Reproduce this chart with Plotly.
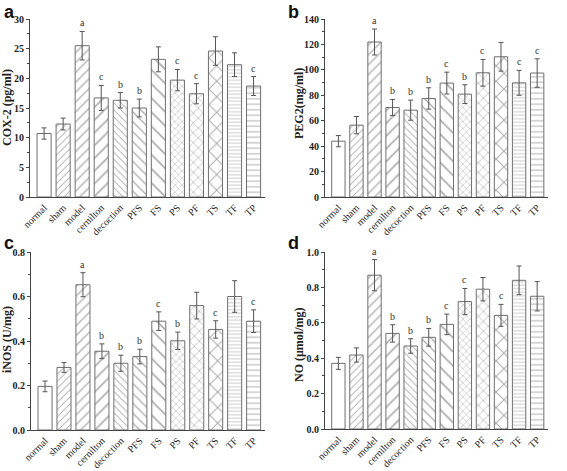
import plotly.graph_objects as go

categories = ["normal", "sham", "model", "cernilton", "decoction", "PFS", "FS", "PS", "PF", "TS", "TF", "TP"]

cox2 = [10.7, 12.3, 25.5, 16.7, 16.3, 15.0, 23.2, 19.7, 17.4, 24.6, 22.3, 18.7]
cox2_err = [0.95, 1.0, 2.4, 2.1, 1.3, 1.5, 2.1, 1.8, 1.7, 2.4, 2.0, 1.6]
cox2_sig = ["", "", "a", "c", "b", "b", "", "c", "c", "", "", "c"]

peg2 = [43.9, 56.5, 121.9, 70.4, 68.3, 77.5, 89.6, 80.9, 97.7, 110.3, 89.8, 97.5]
peg2_err = [4.4, 6.8, 10.2, 6.3, 7.9, 8.4, 8.6, 7.4, 10.5, 11.3, 9.8, 11.2]
peg2_sig = ["", "", "a", "b", "b", "b", "c", "b", "c", "", "c", "c"]

inos = [0.196, 0.281, 0.653, 0.354, 0.300, 0.330, 0.489, 0.401, 0.559, 0.452, 0.600, 0.489]
inos_err = [0.024, 0.022, 0.054, 0.033, 0.036, 0.033, 0.042, 0.039, 0.060, 0.039, 0.071, 0.051]
inos_sig = ["", "", "a", "b", "b", "b", "c", "b", "", "c", "", "c"]

no = [0.371, 0.418, 0.869, 0.540, 0.469, 0.518, 0.591, 0.720, 0.790, 0.642, 0.840, 0.750]
no_err = [0.034, 0.040, 0.088, 0.049, 0.041, 0.050, 0.058, 0.074, 0.066, 0.062, 0.081, 0.083]
no_sig = ["", "", "a", "b", "b", "b", "c", "c", "", "c", "", ""]

# pattern (shape, size) per category
pat_shapes = ["", "/", "/", "/", "\\", "\\", "\\", "x", "x", "x", "-", "-"]
pat_sizes = [8, 5, 7, 9, 5, 7, 10, 5, 7, 11, 3.5, 5.5]

W, H = 567, 471


def fx(px):
    return px / W


def fy(py):
    return 1 - py / H


panels = [
    dict(vals=cox2, err=cox2_err, sig=cox2_sig, title="COX-2 (pg/ml)", rng=[0, 30], dtick=5,
         xd=[fx(30), fx(265)], yd=[fy(197), fy(19)], letter="a", lpos=(2, 0), tpos=(7, 108), fmt=None),
    dict(vals=peg2, err=peg2_err, sig=peg2_sig, title="PEG2(mg/ml)", rng=[0, 140], dtick=20,
         xd=[fx(325), fx(548)], yd=[fy(197), fy(19)], letter="b", lpos=(286, 0), tpos=(299, 104), fmt=None),
    dict(vals=inos, err=inos_err, sig=inos_sig, title="iNOS (U/mg)", rng=[0, 0.8], dtick=0.2,
         xd=[fx(31), fx(265)], yd=[fy(430), fy(252)], letter="c", lpos=(2, 231), tpos=(7, 340), fmt=".1f"),
    dict(vals=no, err=no_err, sig=no_sig, title="NO (μmol/mg)", rng=[0, 1.0], dtick=0.2,
         xd=[fx(325), fx(548)], yd=[fy(429), fy(252)], letter="d", lpos=(286, 231), tpos=(299, 345), fmt=".1f"),
]

fig = go.Figure()
annotations = []
layout = {}
edge = "#6f6f6f"
fg = "#5a5a5a"
for i, p in enumerate(panels):
    n = "" if i == 0 else str(i + 1)
    xa, ya = "x" + n, "y" + n
    fig.add_trace(go.Bar(
        x=categories, y=p["vals"], xaxis=xa, yaxis=ya, width=0.74,
        marker=dict(color="white", line=dict(color=edge, width=1),
                    pattern=dict(shape=pat_shapes, size=pat_sizes, solidity=0.18,
                                 fgcolor=fg, bgcolor="white", fillmode="overlay")),
        error_y=dict(type="data", array=p["err"], color="#555555", thickness=1, width=2.5),
        showlegend=False, hoverinfo="skip"))
    for c, v, e, s in zip(categories, p["vals"], p["err"], p["sig"]):
        if s:
            annotations.append(dict(x=c, y=v + e, xref=xa, yref=ya, text=s, showarrow=False,
                                    yanchor="bottom", yshift=1,
                                    font=dict(family="Liberation Serif", size=10, color="#333333")))
    annotations.append(dict(x=fx(p["lpos"][0]), y=fy(p["lpos"][1]),
                            xref="paper", yref="paper", xanchor="left", yanchor="top",
                            text="<b>%s</b>" % p["letter"], showarrow=False,
                            font=dict(family="Liberation Sans", size=18, color="#111111")))
    annotations.append(dict(x=fx(p["tpos"][0]), y=fy(p["tpos"][1]),
                            xref="paper", yref="paper", xanchor="center", yanchor="middle",
                            text="<b>%s</b>" % p["title"], showarrow=False, textangle=-90,
                            font=dict(family="Liberation Serif", size=12, color="#222222")))
    layout["xaxis" + n] = dict(domain=p["xd"], anchor=ya, range=[-0.74, 11.6], tickangle=-45,
                               automargin=False,
                               showline=True, linecolor="#444", linewidth=1, ticks="",
                               tickfont=dict(family="Liberation Serif", size=10, color="#222222"),
                               showgrid=False, zeroline=False, fixedrange=True)
    layout["yaxis" + n] = dict(domain=p["yd"], anchor=xa, range=p["rng"], dtick=p["dtick"],
                               tickformat=p["fmt"], automargin=False,
                               showline=True, linecolor="#444", linewidth=1, ticks="outside",
                               ticklen=3, tickcolor="#444",
                               minor=dict(ticks="outside", ticklen=2, tickcolor="#444", dtick=p["dtick"] / 2),
                               tickfont=dict(family="Liberation Serif", size=10, color="#222222", weight="bold"),
                               showgrid=False, zeroline=False, fixedrange=True)

fig.update_layout(width=W, height=H, margin=dict(l=0, r=0, t=0, b=0),
                  plot_bgcolor="white", paper_bgcolor="white", bargap=0.26,
                  annotations=annotations, **layout)
fig.write_html("out.html", config={"displayModeBar": False},
               post_script="document.body.style.margin='0';")
